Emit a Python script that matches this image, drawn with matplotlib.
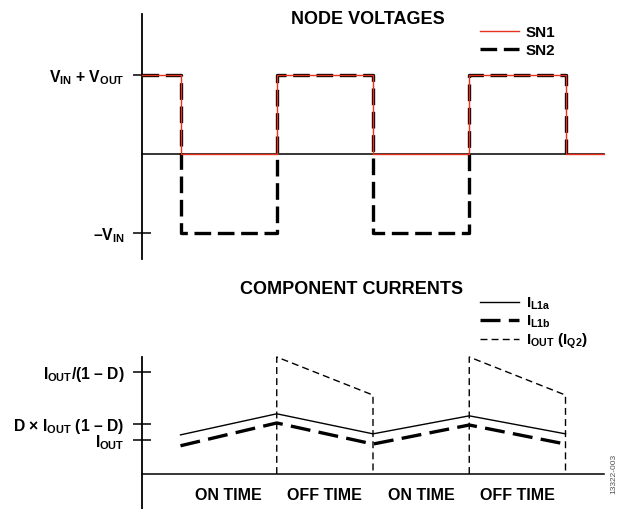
import matplotlib
matplotlib.use('Agg')
import matplotlib.pyplot as plt
from matplotlib.lines import Line2D
import numpy as np

plt.rcParams['font.family'] = ['Liberation Sans', 'DejaVu Sans']
plt.rcParams['font.weight'] = 'bold'
plt.rcParams['mathtext.fontset'] = 'custom'
plt.rcParams['mathtext.rm'] = 'Liberation Sans:bold'
plt.rcParams['mathtext.it'] = 'Liberation Sans:bold'
plt.rcParams['mathtext.bf'] = 'Liberation Sans:bold'

# node voltages (time in half-periods, volts normalised)
sn1_t = [0, 0.4, 1.4, 2.4, 3.4, 4.4, 4.8]
sn1_v = [1, 0, 1, 0, 1, 0, 0]
sn2_t = [0, 0.4, 1.4, 2.4, 3.4, 4.4]
sn2_v = [1, -1, 1, -1, 1, 0]
v_ticks = [1, -1]
v_labels = [r'$V_{IN}$ + $V_{OUT}$', r'–$V_{IN}$']

# component currents
il_t = [0.4, 1.4, 2.4, 3.4, 4.4]
il1a = [1.15, 1.77, 1.18, 1.71, 1.18]
il1b = [0.83, 1.50, 0.88, 1.44, 0.88]
q2_t = [1.4, 1.4, 2.4, 2.4, np.nan, 3.4, 3.4, 4.4, 4.4]
q2_i = [0, 3.44, 2.32, 0, np.nan, 0, 3.44, 2.32, 0]
i_ticks = [3.0, 1.47, 1.0]
i_labels = [r'$I_{OUT}$/(1 – D)', r'D × $I_{OUT}$ (1 – D)', r'$I_{OUT}$']
phase_pos = [0.9, 1.9, 2.9, 3.9]
phase_labels = ['ON TIME', 'OFF TIME', 'ON TIME', 'OFF TIME']

W, H = 620, 509
fig = plt.figure(figsize=(6.2, 5.09), dpi=100)

def rect(x0, x1, ytop, ybot):
    return [x0 / W, 1 - ybot / H, (x1 - x0) / W, (ybot - ytop) / H]

ax1 = fig.add_axes(rect(142, 604, 14, 259))
ax2 = fig.add_axes(rect(142, 604, 357, 509))

red = '#e8321e'
for ax in (ax1, ax2):
    ax.set_xlim(0, 4.8)
    for s in ('top', 'right'):
        ax.spines[s].set_visible(False)
    ax.spines['bottom'].set_position(('data', 0))
    ax.spines['left'].set_linewidth(1.3)
    ax.spines['bottom'].set_linewidth(1.1)
    ax.patch.set_alpha(0)
    ax.tick_params(axis='y', direction='inout', length=13, width=1.1, labelsize=11.3, pad=6)

ax1.set_ylim(-1.33, 1.77)
ax1.step(sn2_t, sn2_v, where='post', color='black', lw=2.4, ls=(0, (5, 2)), zorder=3, label='SN2', clip_on=False)
ax1.step(sn1_t, sn1_v, where='post', color=red, lw=1.0, zorder=4, label='SN1', clip_on=False)
ax1.set_yticks(v_ticks, v_labels)
ax1.set_xticks([])
h1 = [Line2D([], [], color=red, lw=1.0),
      Line2D([], [], color='black', lw=2.4, ls=(0, (5, 2)))]
fig.legend(h1, ['SN1', 'SN2'], loc='upper left', bbox_to_anchor=(466 / W, 1 - 12 / H),
           frameon=False, fontsize=11, handlelength=2.6, handletextpad=0.4, labelspacing=0.25)

ax2.set_ylim(-1.03, 3.44)
ax2.plot(il_t, il1a, color='black', lw=1.0, label=r'$I_{L1a}$')
ax2.plot(il_t, il1b, color='black', lw=2.4, ls=(0, (6, 2.5)), label=r'$I_{L1b}$')
ax2.plot(q2_t, q2_i, color='black', lw=1.0, ls=(0, (5, 3)), label=r'$I_{OUT}$ ($I_{Q2}$)', clip_on=False)
ax2.set_yticks(i_ticks, i_labels)
ax2.set_xticks(phase_pos, phase_labels)
ax2.tick_params(axis='x', length=0, labelsize=11.5, pad=10)
fig.legend(*ax2.get_legend_handles_labels(), loc='upper left', bbox_to_anchor=(466 / W, 1 - 282 / H),
           frameon=False, fontsize=11, handlelength=2.6, handletextpad=0.4, labelspacing=0.1)

fig.text(368 / W, 1 - 19 / H, 'NODE VOLTAGES', ha='center', va='center', fontsize=13, fontweight='bold')
fig.text(352 / W, 1 - 290 / H, 'COMPONENT CURRENTS', ha='center', va='center', fontsize=13, fontweight='bold')
fig.text(614 / W, 1 - 474 / H, '13322-003', rotation=90, ha='center', va='center', fontsize=6,
         color='#555555', fontweight='normal')

fig.savefig('out.png', dpi=100)
